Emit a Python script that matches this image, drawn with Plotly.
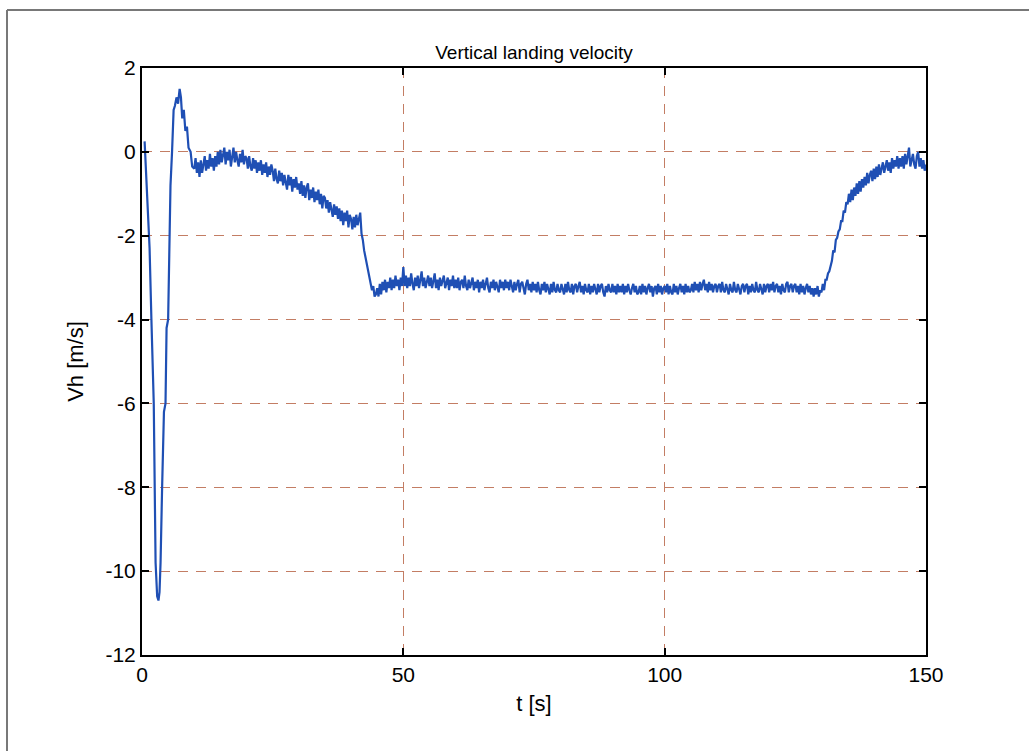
import plotly.graph_objects as go

# Initial transient (s, m/s)
t_start = [0.5, 0.8, 1.1, 1.45, 1.8, 2.25, 2.45, 2.6, 2.9, 3.15, 3.35, 3.55, 3.85, 4.2, 4.5,
           4.7, 5.0, 5.2, 5.45, 5.75, 6.05, 6.3, 6.6, 6.9, 7.2, 7.45, 7.7, 8.0, 8.3, 8.6,
           8.9, 9.3, 9.6]
v_start = [0.25, -0.5, -1.3, -2.3, -4.0, -6.0, -8.2, -9.8, -10.6, -10.7, -10.5, -9.8, -8.0, -6.2, -6.0,
           -4.2, -4.0, -2.7, -0.8, 0.0, 1.0, 1.1, 1.3, 1.15, 1.5, 1.3, 0.8, 1.0, 0.5, 0.6,
           0.1, 0.0, -0.35]

# Main record, sampled every 0.25 s from t = 10 s to t = 150 s (one row = 5 s)
v_main = [
    -0.4, -0.15, -0.5, -0.25, -0.6, -0.2, -0.5, -0.3, -0.1, -0.45, -0.2, -0.4, -0.05, -0.35, -0.15, -0.45, -0.1, -0.35, 0.0, -0.3,          # 10
    0.05, -0.25, -0.05, 0.1, -0.3, 0.0, -0.2, 0.05, -0.35, -0.05, 0.1, -0.25, 0.0, -0.2, -0.35, -0.05, -0.25, 0.05, -0.3, -0.1,             # 15
    -0.15, -0.4, -0.1, -0.35, -0.45, -0.15, -0.4, -0.2, -0.5, -0.25, -0.45, -0.2, -0.55, -0.3, -0.5, -0.25, -0.6, -0.35, -0.55, -0.3,       # 20
    -0.45, -0.7, -0.4, -0.65, -0.75, -0.45, -0.7, -0.5, -0.8, -0.55, -0.75, -0.9, -0.55, -0.8, -0.6, -0.95, -0.65, -0.85, -0.6, -0.9,       # 25
    -0.75, -1.0, -0.7, -1.05, -0.8, -1.1, -0.85, -0.75, -1.15, -0.9, -1.1, -0.85, -1.2, -0.95, -1.15, -0.9, -1.25, -1.0, -1.35, -1.05,      # 30
    -1.1, -1.35, -1.15, -1.45, -1.2, -1.4, -1.55, -1.25, -1.5, -1.3, -1.6, -1.35, -1.65, -1.4, -1.75, -1.45, -1.65, -1.4, -1.8, -1.5,      # 35
    -1.6, -1.85, -1.55, -1.8, -1.5, -1.75, -1.55, -1.45, -1.95, -2.1, -2.35, -2.5, -2.7, -2.85, -3.0, -3.15, -3.3, -3.2, -3.45, -3.4,      # 40
    -3.25, -3.45, -3.15, -3.4, -3.1, -3.3, -3.05, -3.35, -3.1, -3.25, -3.0, -3.3, -3.05, -3.25, -2.95, -3.2, -3.05, -3.3, -3.0, -3.2,      # 45
    -2.75, -3.2, -2.95, -3.25, -3.0, -3.2, -2.9, -3.15, -3.3, -3.0, -3.2, -2.95, -3.25, -3.05, -2.85, -3.2, -3.0, -3.25, -3.05, -2.95,     # 50
    -3.2, -3.0, -3.25, -3.05, -2.9, -3.25, -3.05, -3.3, -3.0, -3.2, -3.05, -2.95, -3.25, -3.1, -3.0, -3.3, -3.05, -3.2, -2.95, -3.25,      # 55
    -3.05, -3.25, -3.0, -3.3, -3.1, -3.05, -3.25, -2.95, -3.2, -3.3, -3.05, -3.25, -3.1, -3.0, -3.3, -3.1, -3.25, -3.05, -3.35, -3.1,      # 60
    -3.25, -3.05, -3.3, -3.1, -3.0, -3.25, -3.35, -3.1, -3.25, -3.05, -3.3, -3.1, -3.25, -3.35, -3.05, -3.25, -3.1, -3.3, -3.05, -3.25,    # 65
    -3.1, -3.3, -3.05, -3.25, -3.35, -3.1, -3.3, -3.15, -3.05, -3.35, -3.15, -3.1, -3.3, -3.4, -3.15, -3.05, -3.3, -3.15, -3.35, -3.1,     # 70
    -3.3, -3.15, -3.35, -3.1, -3.3, -3.4, -3.15, -3.3, -3.1, -3.35, -3.15, -3.3, -3.4, -3.15, -3.35, -3.1, -3.3, -3.35, -3.15, -3.3,       # 75
    -3.35, -3.15, -3.3, -3.4, -3.15, -3.35, -3.1, -3.3, -3.35, -3.15, -3.4, -3.2, -3.15, -3.35, -3.2, -3.1, -3.35, -3.2, -3.4, -3.15,      # 80
    -3.3, -3.35, -3.15, -3.4, -3.2, -3.35, -3.15, -3.3, -3.4, -3.15, -3.35, -3.2, -3.15, -3.35, -3.45, -3.2, -3.35, -3.15, -3.3, -3.35,    # 85
    -3.15, -3.35, -3.2, -3.4, -3.15, -3.35, -3.2, -3.35, -3.15, -3.4, -3.2, -3.35, -3.15, -3.3, -3.4, -3.25, -3.15, -3.35, -3.2, -3.4,     # 90
    -3.35, -3.2, -3.4, -3.15, -3.35, -3.2, -3.4, -3.25, -3.15, -3.35, -3.2, -3.45, -3.25, -3.2, -3.4, -3.15, -3.35, -3.2, -3.4, -3.25,     # 95
    -3.2, -3.35, -3.15, -3.4, -3.2, -3.35, -3.4, -3.15, -3.35, -3.2, -3.4, -3.25, -3.15, -3.35, -3.2, -3.4, -3.15, -3.35, -3.2, -3.35,     # 100
    -3.3, -3.15, -3.35, -3.1, -3.3, -3.15, -3.35, -3.1, -3.3, -3.15, -3.05, -3.3, -3.15, -3.35, -3.1, -3.3, -3.15, -3.35, -3.2, -3.15,     # 105
    -3.35, -3.2, -3.15, -3.35, -3.1, -3.3, -3.35, -3.15, -3.3, -3.4, -3.15, -3.3, -3.35, -3.1, -3.3, -3.35, -3.15, -3.3, -3.4, -3.2,       # 110
    -3.15, -3.35, -3.2, -3.15, -3.4, -3.2, -3.35, -3.15, -3.3, -3.35, -3.1, -3.3, -3.35, -3.15, -3.3, -3.4, -3.15, -3.35, -3.2, -3.15,     # 115
    -3.35, -3.15, -3.3, -3.1, -3.35, -3.2, -3.15, -3.35, -3.2, -3.4, -3.15, -3.3, -3.35, -3.15, -3.1, -3.35, -3.2, -3.15, -3.35, -3.2,     # 120
    -3.15, -3.35, -3.2, -3.4, -3.15, -3.35, -3.2, -3.4, -3.25, -3.15, -3.35, -3.2, -3.4, -3.25, -3.45, -3.25, -3.4, -3.2, -3.45, -3.3,     # 125
    -3.35, -3.15, -3.3, -3.05, -3.05, -2.9, -2.85, -2.7, -2.6, -2.35, -2.4, -2.1, -2.05, -1.9, -1.85, -1.65, -1.65, -1.4, -1.45, -1.2,     # 130
    -1.25, -1.0, -1.2, -0.9, -1.15, -0.85, -1.05, -0.75, -1.0, -0.7, -0.95, -0.65, -0.85, -0.6, -0.8, -0.5, -0.75, -0.55, -0.45, -0.7,     # 135
    -0.4, -0.65, -0.35, -0.6, -0.3, -0.55, -0.35, -0.25, -0.5, -0.3, -0.2, -0.45, -0.25, -0.5, -0.15, -0.4, -0.2, -0.35, -0.1, -0.4,       # 140
    -0.15, -0.35, -0.1, -0.4, -0.05, -0.3, -0.1, 0.1, -0.35, -0.15, -0.05, -0.3, -0.4, -0.1, 0.0, -0.35, -0.15, -0.4, -0.2, -0.45,         # 145
    -0.3,                                                                                                                                   # 150
]
t_main = [10 + 0.25 * i for i in range(len(v_main))]

t_all = t_start + t_main
v_all = v_start + v_main

x_ticks = [0, 50, 100, 150]
y_ticks = [-12, -10, -8, -6, -4, -2, 0, 2]
y_tick_text = ["-12", "-10", "-8", "-6", "-4", "-2", "0", "2"]

FONT = "Liberation Sans, Arial, sans-serif"
GRID = "rgb(195,125,100)"

fig = go.Figure()
fig.add_trace(go.Scatter(x=t_all, y=v_all, mode="lines",
                         line=dict(color="#1f4fb4", width=2.2), showlegend=False))

W, H = 1029, 751
L, R, T, B = 142, 103, 68, 96
pw, ph = W - L - R, H - T - B

def px(xp):
    return (xp - L) / pw

def py(yp):
    return (H - B - yp) / ph

fig.update_layout(
    width=W, height=H,
    margin=dict(l=L, r=R, t=T, b=B, pad=0),
    paper_bgcolor="white", plot_bgcolor="white",
    font=dict(family=FONT, color="black", size=21),
    title=dict(text="Vertical landing velocity", x=(L + pw / 2) / W, xanchor="center",
               y=1 - 52 / H, yanchor="middle", font=dict(size=19, family=FONT)),
    xaxis=dict(range=[0, 150], tickvals=x_ticks, ticks="inside", ticklen=7, tickwidth=1.5,
               tickcolor="black", showline=True, linecolor="black", linewidth=2, mirror="ticks",
               showgrid=True, gridcolor=GRID, griddash="10px,8px", gridwidth=1.4,
               zeroline=False, tickfont=dict(size=21),
               title=dict(text="t [s]", font=dict(size=22), standoff=10)),
    yaxis=dict(range=[-12, 2], tickvals=y_ticks, ticktext=y_tick_text, ticks="inside", ticklen=7,
               tickwidth=1.5, tickcolor="black", showline=True, linecolor="black", linewidth=2,
               mirror="ticks", showgrid=True, gridcolor=GRID, griddash="10px,8px", gridwidth=1.4,
               zeroline=False, tickfont=dict(size=21),
               title=dict(text="Vh [m/s]", font=dict(size=22), standoff=16)),
    shapes=[
        dict(type="line", xref="paper", yref="paper", x0=px(7), x1=px(W + 5), y0=py(10), y1=py(10),
             line=dict(color="rgb(120,120,120)", width=2)),
        dict(type="line", xref="paper", yref="paper", x0=px(7), x1=px(7), y0=py(10), y1=py(H + 5),
             line=dict(color="rgb(120,120,120)", width=2)),
    ],
)

fig.write_html("out.html", config={"displayModeBar": False},
               post_script="document.body.style.margin='0';document.body.style.overflow='hidden';")
